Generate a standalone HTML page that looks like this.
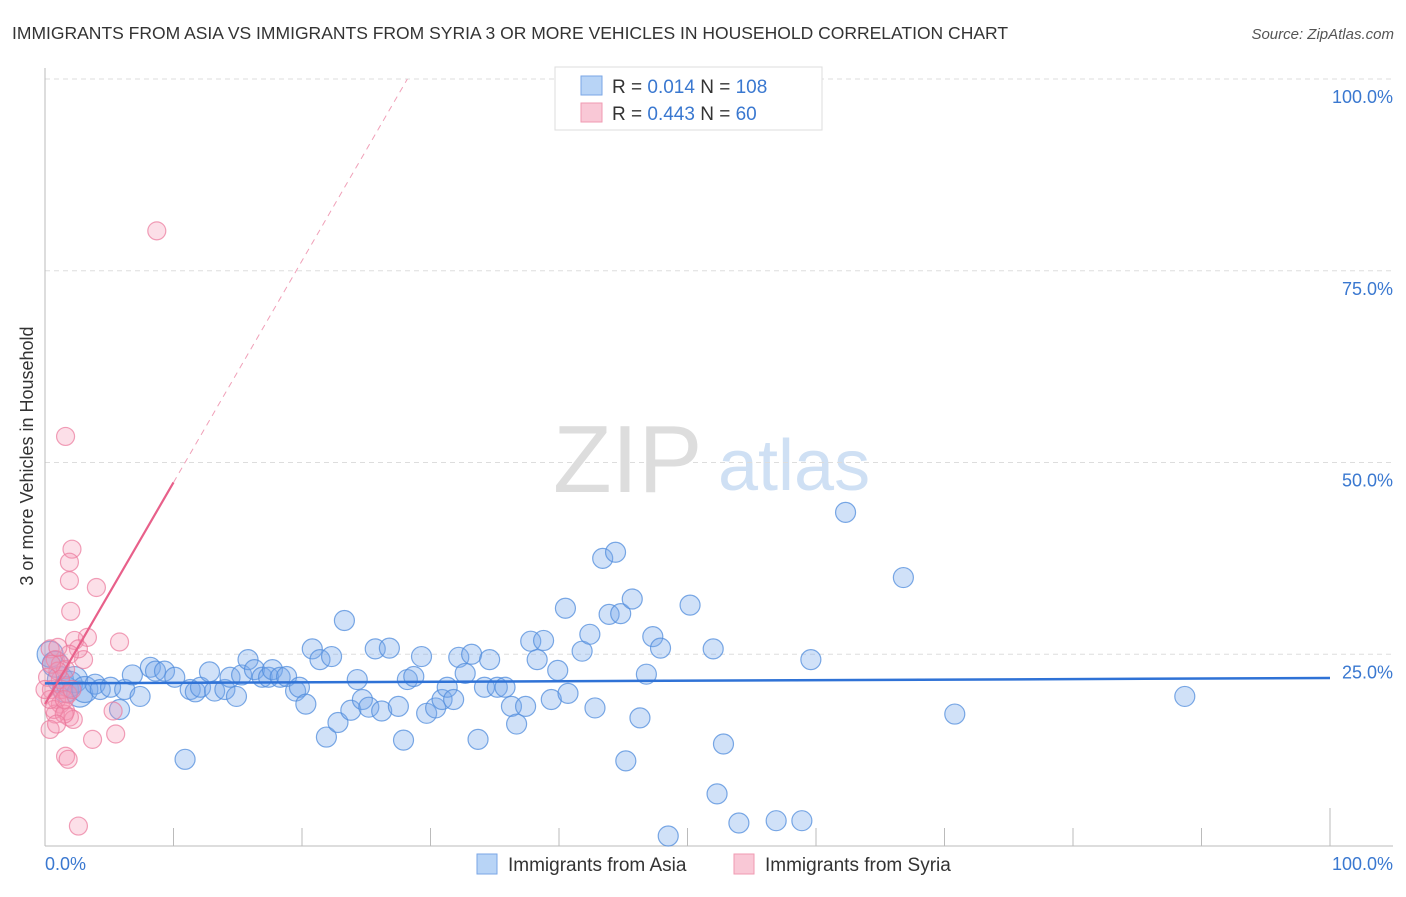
<!DOCTYPE html>
<html><head><meta charset="utf-8"><style>
body{margin:0;background:#fff;font-family:"Liberation Sans",sans-serif;}
svg text{font-family:"Liberation Sans",sans-serif;}
</style></head><body>
<svg width="1406" height="892" xmlns="http://www.w3.org/2000/svg">
<text x="12" y="39" font-size="17.5" fill="#333">IMMIGRANTS FROM ASIA VS IMMIGRANTS FROM SYRIA 3 OR MORE VEHICLES IN HOUSEHOLD CORRELATION CHART</text>
<text x="1394" y="39" font-size="15" fill="#555" font-style="italic" text-anchor="end">Source: ZipAtlas.com</text>
<g>
<text x="553" y="492" font-family="Liberation Serif,serif" font-size="96" fill="#ddd">ZIP</text>
<text x="718" y="490" font-size="72" fill="#cfe0f4">atlas</text>
</g>
<g id="grid"></g>
<g id="axes"></g>
<g id="pts"></g>
<g id="trends"></g>
<text transform="translate(33,456) rotate(-90)" font-size="18" fill="#333" text-anchor="middle">3 or more Vehicles in Household</text>
<g>
<rect x="555" y="67" width="267" height="63" fill="#fff" stroke="#ddd"/>
<rect x="581" y="76" width="21" height="19" fill="#b8d4f6" stroke="#7aa6e6"/>
<rect x="581" y="103" width="21" height="19" fill="#f9c8d6" stroke="#f09ab2"/>
<text x="612" y="93" font-size="19" fill="#333">R = <tspan fill="#3a78d0">0.014</tspan>   N = <tspan fill="#3a78d0">108</tspan></text>
<text x="612" y="120" font-size="19" fill="#333">R = <tspan fill="#3a78d0">0.443</tspan>   N =  <tspan fill="#3a78d0"> 60</tspan></text>
</g>
<g>
<rect x="477" y="854" width="20" height="20" fill="#b8d4f6" stroke="#7aa6e6"/>
<text x="508" y="871" font-size="19" fill="#333">Immigrants from Asia</text>
<rect x="734" y="854" width="20" height="20" fill="#f9c8d6" stroke="#f09ab2"/>
<text x="765" y="871" font-size="19" fill="#333">Immigrants from Syria</text>
</g>
</svg>
<script>
const asiaX=[0.4,0.8,1.2,1.6,1.9,2.3,2.7,3.1,3.9,4.3,5.1,5.8,6.2,6.8,7.4,8.2,8.6,9.3,10.1,10.9,11.3,11.7,12.1,12.8,13.2,14.0,14.4,14.9,15.3,15.8,16.3,16.9,17.4,17.7,18.3,18.8,19.5,19.8,20.3,20.8,21.4,21.9,22.3,22.8,23.3,23.8,24.3,24.7,25.2,25.7,26.2,26.8,27.5,27.9,28.2,28.7,29.3,29.7,30.4,30.9,31.3,31.8,32.2,32.7,33.2,33.7,34.2,34.6,35.2,35.8,36.3,36.7,37.4,37.8,38.3,38.8,39.4,39.9,40.5,40.7,41.8,42.4,42.8,43.4,43.9,44.4,44.8,45.2,45.7,46.3,46.8,47.3,47.9,48.5,50.2,52.0,52.3,52.8,54.0,56.9,58.9,59.6,62.3,66.8,70.8,88.7];
const asiaY=[25.0,23.7,21.7,20.4,21.1,21.7,19.8,20.4,21.1,20.4,20.7,17.8,20.4,22.3,19.5,23.3,22.8,22.8,22.0,11.3,20.4,20.1,20.7,22.7,20.2,20.4,22.0,19.5,22.3,24.3,23.0,22.0,22.0,23.0,22.0,22.1,20.2,20.7,18.5,25.7,24.3,14.2,24.7,16.1,29.4,17.7,21.7,19.1,18.1,25.7,17.6,25.8,18.2,13.8,21.7,22.1,24.7,17.3,18.0,19.1,20.7,19.1,24.6,22.5,25.0,13.9,20.7,24.3,20.7,20.7,18.2,15.9,18.2,26.7,24.3,26.8,19.1,22.9,31.0,19.9,25.4,27.6,18.0,37.5,30.2,38.3,30.3,11.1,32.2,16.7,22.4,27.3,25.8,1.3,31.4,25.7,6.8,13.3,3.0,3.3,3.3,24.3,43.5,35.0,17.2,19.5];
const syriaX=[8.7,1.6,2.1,1.9,1.9,2.0,4.0,5.8,3.3,2.3,0.4,0.8,1.2,1.6,0.5,0.9,1.2,1.6,1.9,0.8,0.4,1.6,1.8,2.6,3.7,5.5,5.3,2.2,1.2,1.3,1.8,1.0,0.5,0.2,0.7,1.5,3.0,2.6,1.9,1.0,0.4,0.9,1.5,2.1,0.0];
const syriaY=[80.2,53.4,38.7,37.0,34.6,30.6,33.7,26.6,27.2,26.8,25.7,24.3,23.7,23.0,20.4,19.1,18.5,17.6,16.8,17.2,15.2,11.7,11.3,2.6,13.9,14.6,17.6,16.5,21.7,20.4,19.8,22.8,23.7,22.0,17.8,17.2,24.3,25.7,25.0,25.9,19.1,15.9,19.1,20.4,20.4];
const yTicks=[25,50,75,100];
const yTickLabels=["25.0%","50.0%","75.0%","100.0%"];
const asiaTrend=[21.2,21.9];
const syriaTrend=[18.5,2.89];
const NS="http://www.w3.org/2000/svg";
const X0=45,X1=1330,Y0=846,Y1=79;
const sx=v=>X0+(X1-X0)*v/100, sy=v=>Y0-(Y0-Y1)*v/100;
function mk(tag,a,p){const e=document.createElementNS(NS,tag);for(const k in a)e.setAttribute(k,a[k]);p.appendChild(e);return e;}
const grid=document.getElementById('grid'),axes=document.getElementById('axes'),pts=document.getElementById('pts'),tr=document.getElementById('trends');
yTicks.forEach((t,i)=>{
 const l=mk('line',{x1:X0,x2:1393,y1:sy(t),y2:sy(t),stroke:'#ddd','stroke-dasharray':'5,4'},grid);
 
 
 const tx=mk('text',{x:1393,y:sy(t)+24,'font-size':18,fill:'#3a78d0','text-anchor':'end'},grid);
 tx.textContent=yTickLabels[i];
 
 
});
mk('line',{x1:X0,x2:X0,y1:68,y2:Y0,stroke:'#bbb'},axes);
mk('line',{x1:X0,x2:1393,y1:Y0,y2:Y0,stroke:'#bbb'},axes);
for(let i=1;i<=10;i++){mk('line',{x1:sx(i*10),x2:sx(i*10),y1:Y0,y2:i==10?808:828,stroke:'#bbb'},axes);}
const xl=mk('text',{x:45,y:870,'font-size':18,fill:'#3a78d0'},axes);xl.textContent='0.0%';


const xr=mk('text',{x:1393,y:870,'font-size':18,fill:'#3a78d0','text-anchor':'end'},axes);xr.textContent='100.0%';


asiaX.forEach((x,i)=>{
 const c=mk('circle',{cx:sx(x),cy:sy(asiaY[i]),r:(x<3.5?13:10),fill:'rgba(120,170,235,0.35)',stroke:'rgba(80,140,220,0.75)','stroke-width':1.2},pts);
 
 
});
syriaX.forEach((x,i)=>{
 const c=mk('circle',{cx:sx(x),cy:sy(syriaY[i]),r:9,fill:'rgba(245,150,180,0.3)',stroke:'rgba(235,120,155,0.7)','stroke-width':1.2},pts);
 
 
});
const bl=mk('line',{x1:sx(0),y1:sy(asiaTrend[0]),x2:sx(100),y2:sy(asiaTrend[1]),stroke:'#2f72d6','stroke-width':2.5},tr);


const xEnd=10, xTop=(100-syriaTrend[0])/syriaTrend[1];
const pl=mk('line',{x1:sx(0),y1:sy(syriaTrend[0]),x2:sx(xEnd),y2:sy(syriaTrend[0]+syriaTrend[1]*xEnd),stroke:'#e8608a','stroke-width':2.2},tr);


const pd=mk('line',{x1:sx(xEnd),y1:sy(syriaTrend[0]+syriaTrend[1]*xEnd),x2:sx(xTop),y2:sy(100),stroke:'#f0a0b8','stroke-width':1,'stroke-dasharray':'6,5'},tr);


</script>
</body></html>
